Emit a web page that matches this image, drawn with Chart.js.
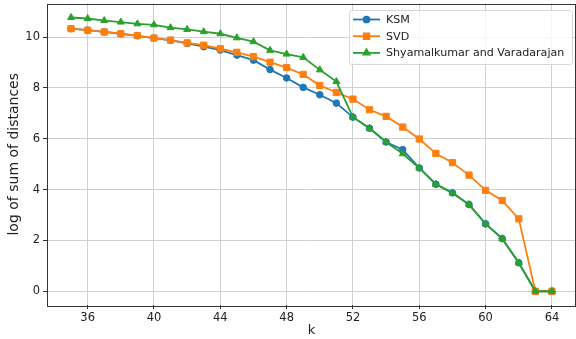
<!DOCTYPE html>
<html>
<head>
<meta charset="utf-8">
<script src="https://cdn.jsdelivr.net/npm/chart.js@4"></script>
<style>
  html, body { margin: 0; padding: 0; background: #fff; }
  #wrap { width: 576px; height: 339px; }
</style>
</head>
<body>
<div id="wrap"><canvas id="chart"></canvas></div>
<script>
const ks = [35, 36, 37, 38, 39, 40, 41, 42, 43, 44, 45, 46, 47, 48, 49,
  50, 51, 52, 53, 54, 55, 56, 57, 58, 59, 60, 61, 62, 63, 64];
const ksm = [10.33, 10.27, 10.20, 10.13, 10.05, 9.96, 9.87, 9.75, 9.62, 9.49, 9.29, 9.09, 8.72, 8.39, 8.02,
  7.73, 7.40, 6.85, 6.41, 5.87, 5.57, 4.85, 4.21, 3.87, 3.41, 2.65, 2.07, 1.12, 0, 0];
const svd = [10.33, 10.27, 10.20, 10.13, 10.06, 9.96, 9.88, 9.77, 9.68, 9.54, 9.40, 9.23, 9.01, 8.80, 8.53,
  8.10, 7.82, 7.56, 7.14, 6.88, 6.46, 5.99, 5.42, 5.06, 4.57, 3.97, 3.57, 2.85, 0, 0];
const sv = [10.77, 10.73, 10.65, 10.59, 10.52, 10.48, 10.37, 10.30, 10.21, 10.13, 9.97, 9.82, 9.48, 9.33, 9.20,
  8.71, 8.25, 6.85, 6.41, 5.87, 5.41, 4.85, 4.21, 3.87, 3.41, 2.65, 2.07, 1.12, 0, 0];
const xTicks = [36, 40, 44, 48, 52, 56, 60, 64];
const yTicks = [0, 2, 4, 6, 8, 10];

const FONT = 'DejaVu Sans';
const pts = arr => arr.map((v, i) => ({ x: ks[i], y: v }));

const series = [
  { label: 'KSM', data: pts(ksm), color: '#1f77b4', style: 'circle', r: 3.3, order: 3 },
  { label: 'SVD', data: pts(svd), color: '#ff7f0e', style: 'rect', r: 4.4, order: 2 },
  { label: 'Shyamalkumar and Varadarajan', data: pts(sv), color: '#2ca02c', style: 'triangle', r: 4, order: 1 },
];

// markers never sit on the plot edge, so don't let them push the layout in
Chart.registry.getController('line').prototype.getMaxOverflow = () => 0;

// frame round the plot + legend inside, matplotlib style
const mplBits = {
  id: 'mplBits',
  afterDraw(chart) {
    const ctx = chart.ctx, a = chart.chartArea;
    ctx.save();
    ctx.strokeStyle = '#333';
    ctx.lineWidth = 1;
    ctx.strokeRect(Math.round(a.left) + 0.5, Math.round(a.top) + 0.5,
      Math.round(a.right - a.left) - 1, Math.round(a.bottom - a.top));

    // legend box
    const bx = 349, by = 10, bw = 223, bh = 54;
    ctx.fillStyle = 'rgba(255,255,255,0.8)';
    ctx.strokeStyle = '#d6d6d6';
    ctx.lineWidth = 1;
    ctx.beginPath();
    ctx.roundRect(bx + 0.5, by + 0.5, bw, bh, 3);
    ctx.fill();
    ctx.stroke();
    ctx.font = '11.1px "' + FONT + '"';
    ctx.textBaseline = 'middle';
    series.forEach((s, i) => {
      const y = by + 9.5 + i * 16.7;
      ctx.strokeStyle = s.color;
      ctx.lineWidth = 1.8;
      ctx.beginPath();
      ctx.moveTo(353, y);
      ctx.lineTo(380, y);
      ctx.stroke();
      ctx.fillStyle = s.color;
      ctx.strokeStyle = s.color;
      Chart.helpers.drawPoint(ctx, { pointStyle: s.style, radius: s.r * 0.9, borderWidth: 1 }, 366.5, y);
      ctx.fillStyle = '#222';
      ctx.fillText(s.label, 386, y + 0.5);
    });
    ctx.restore();
  }
};

new Chart(document.getElementById('chart'), {
  type: 'line',
  data: {
    datasets: series.map(s => ({
      label: s.label,
      data: s.data,
      borderColor: s.color,
      backgroundColor: s.color,
      borderWidth: 1.8,
      pointStyle: s.style,
      pointRadius: s.r,
      pointBorderWidth: 1,
      pointBackgroundColor: s.color,
      pointBorderColor: s.color,
      order: s.order,
      tension: 0,
    })),
  },
  options: {
    responsive: true,
    maintainAspectRatio: false,
    animation: false,
    // the source figure is cut off just past the right spine
    layout: { padding: { top: 3.5, right: -2, left: 0, bottom: 0 } },
    plugins: {
      legend: { display: false },
      tooltip: { enabled: false },
    },
    scales: {
      x: {
        type: 'linear',
        min: 33.55,
        max: 65.45,
        afterBuildTicks: axis => { axis.ticks = xTicks.map(v => ({ value: v })); },
        afterFit: axis => { axis.height = 34; axis.paddingLeft = 0; axis.paddingRight = 0; },
        grid: { color: '#d0d0d0', lineWidth: 1, tickLength: 4, tickColor: '#333', drawOnChartArea: true },
        border: { display: false },
        ticks: { color: '#222', font: { family: FONT, size: 11.5 }, padding: 2, maxRotation: 0 },
        title: { display: true, text: 'k', color: '#222', font: { family: FONT, size: 13 }, padding: { top: 0, bottom: 1 } },
      },
      y: {
        type: 'linear',
        min: -0.54,
        max: 11.32,
        afterBuildTicks: axis => { axis.ticks = yTicks.map(v => ({ value: v })); },
        afterFit: axis => { axis.width = 47; axis.paddingTop = 0; axis.paddingBottom = 0; },
        grid: { color: '#d0d0d0', lineWidth: 1, tickLength: 4, tickColor: '#333' },
        border: { display: false },
        ticks: { color: '#222', font: { family: FONT, size: 11.5 }, padding: 3 },
        title: { display: true, text: 'log of sum of distances', color: '#222', font: { family: FONT, size: 14 }, padding: { top: 6, bottom: 0 } },
      },
    },
  },
  plugins: [mplBits],
});
</script>
</body>
</html>
